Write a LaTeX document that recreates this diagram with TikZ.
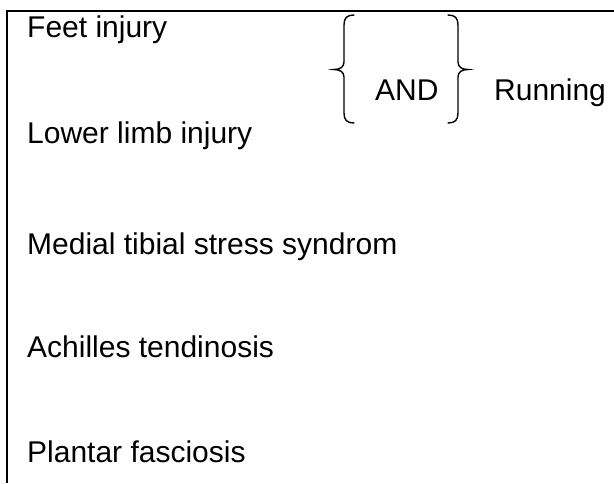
\documentclass[tikz,border=0pt]{standalone}
\usepackage{fontspec}
\setmainfont{Liberation Sans}
\begin{document}
\begin{tikzpicture}[x=1pt,y=-1pt,
  lbl/.style={anchor=base west,inner sep=0pt,font=\fontsize{30}{36}\selectfont},
  rule/.style={line width=2pt,black},
  brace/.style={line width=1.4pt,black,line cap=round}]
\useasboundingbox (0,0) rectangle (614,483);
\coordinate (tl) at (7,11);
\coordinate (tr) at (614,11);
\coordinate (bl) at (7,483);
\draw[rule] (tr) -- (tl) -- (bl);
\node[lbl] (feet) at (27,37) {Feet injury};
\node[lbl] (lower) at (27,143) {Lower limb injury};
\node[lbl] (medial) at (27,254) {Medial tibial stress syndrom};
\node[lbl] (achilles) at (27,357) {Achilles tendinosis};
\node[lbl] (plantar) at (27,462) {Plantar fasciosis};
\node[lbl] (and) at (375,100) {AND};
\node[lbl] (running) at (494,100) {Running};
% left brace
\draw[brace] (354,15) .. controls (347,15) and (344,18) .. (344,25) -- (344,62)
  .. controls (344,67) and (340,69.5) .. (334,69.5)
  .. controls (340,69.5) and (344,72) .. (344,77) -- (344,113)
  .. controls (344,120) and (347,123) .. (354,123);
% right brace
\draw[brace] (448,15) .. controls (455,15) and (458,18) .. (458,25) -- (458,62)
  .. controls (458,67) and (462,69.5) .. (468,69.5)
  .. controls (462,69.5) and (458,72) .. (458,77) -- (458,113)
  .. controls (458,120) and (455,123) .. (448,123);
\end{tikzpicture}
\end{document}
